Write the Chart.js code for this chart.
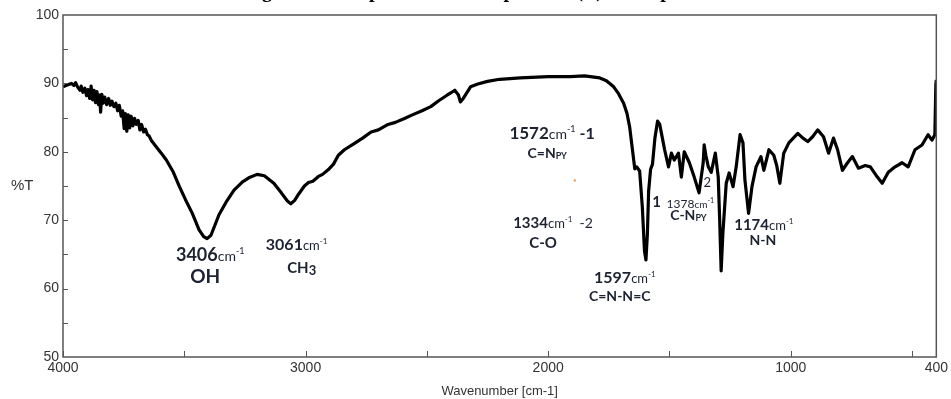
<!DOCTYPE html>
<html>
<head>
<meta charset="utf-8">
<script src="https://cdn.jsdelivr.net/npm/chart.js@4.4.1/dist/chart.umd.min.js"></script>
<style>
  html, body { margin: 0; padding: 0; background: #fff; }
  canvas { display: block; }
</style>
</head>
<body>
<canvas id="irChart" width="951" height="399"></canvas>
<script>
// IR spectrum (wavenumber in cm-1, transmittance in %)
const wavenumbers = [
  4000, 3980, 3965, 3955, 3948, 3940, 3930, 3925, 3918, 3910, 3903, 3897, 3890, 3884, 3878, 3872,
  3866, 3860, 3854, 3849, 3845, 3840, 3834, 3828, 3820, 3812, 3805, 3798, 3790, 3782, 3775, 3768,
  3760, 3754, 3748, 3743, 3737, 3731, 3725, 3719, 3712, 3705, 3698, 3690, 3683, 3676, 3668, 3660,
  3652, 3645, 3635, 3615, 3595, 3574,
  3545, 3520, 3495, 3467, 3439, 3420, 3406, 3390, 3357, 3325, 3295, 3260, 3234, 3200, 3170, 3131,
  3100, 3075, 3061, 3045, 3029, 3005, 2988, 2970, 2947, 2930, 2906, 2885, 2865, 2840, 2800, 2765,
  2730, 2700, 2660, 2630, 2590, 2560, 2520, 2484, 2450, 2420, 2402, 2385, 2370, 2362, 2350, 2320,
  2290, 2250, 2200, 2115, 2000, 1910, 1850, 1787, 1760, 1730, 1710, 1689, 1675, 1664, 1655, 1643,
  1635, 1623, 1612, 1603, 1597, 1591, 1586, 1578, 1570, 1560, 1549, 1540, 1533, 1520, 1504, 1492,
  1480, 1463, 1451, 1439, 1418, 1398, 1378, 1361, 1357, 1350, 1340, 1328, 1311, 1299, 1293, 1287,
  1280, 1266, 1254, 1238, 1225, 1209, 1197, 1189, 1174, 1160, 1143, 1123, 1111, 1090, 1070, 1058,
  1045, 1029, 1008, 971, 950, 930, 910, 889, 865, 844, 824, 807, 787, 766, 746, 721,
  693, 672, 643, 623, 598, 570, 541, 516, 488, 459, 434, 418, 406, 402, 400
];
const transmittance = [
  89.5, 89.8, 90.0, 89.7, 90.1, 89.5, 89.0, 89.6, 88.7, 89.3, 88.2, 89.1, 87.8, 89.6, 87.6, 89.0,
  87.2, 88.8, 86.9, 88.3, 85.8, 88.4, 87.1, 88.0, 86.9, 87.8, 86.8, 87.4, 86.6, 87.1, 86.0, 86.8,
  85.2, 86.0, 83.4, 85.6, 83.0, 85.4, 83.5, 85.2, 83.8, 84.9, 84.0, 84.6, 83.2, 84.0, 82.9, 83.3,
  82.5, 82.3, 81.6, 80.7, 79.8, 78.8,
  77.0, 74.9, 73.0, 71.0, 68.6, 67.6, 67.3, 67.8, 70.8, 72.8, 74.4, 75.6, 76.2, 76.7, 76.5, 75.4,
  74.0, 72.8, 72.4, 72.9, 73.8, 75.0, 75.5, 75.7, 76.4, 76.7, 77.4, 78.2, 79.5, 80.3, 81.2, 82.0,
  82.9, 83.2, 84.0, 84.3, 84.9, 85.4, 86.0, 86.6, 87.5, 88.2, 88.6, 89.0, 88.3, 87.3, 87.8, 89.5,
  89.9, 90.3, 90.6, 90.8, 91.0, 91.0, 91.1, 90.8, 90.4, 89.5, 88.5, 87.1, 85.6, 83.6, 81.0, 77.5,
  77.8, 77.2, 72.0, 65.5, 64.2, 68.0, 74.2, 77.4, 78.2, 82.0, 84.5, 84.0, 82.7, 80.3, 77.8, 79.8,
  78.8, 79.8, 76.3, 80.0, 78.4, 76.3, 74.0, 78.4, 81.0, 79.5, 77.8, 77.0, 79.8, 76.3, 70.0, 62.6,
  68.0, 75.4, 76.9, 74.9, 77.8, 82.5, 81.3, 75.9, 71.0, 74.9, 77.8, 79.3, 77.3, 80.3, 79.5, 78.0,
  75.4, 79.8, 81.3, 82.7, 82.0, 81.5, 82.2, 83.2, 82.2, 79.8, 82.0, 80.3, 77.3, 78.4, 79.3, 77.6,
  78.0, 77.8, 76.3, 75.4, 77.0, 77.8, 78.4, 77.8, 80.3, 81.0, 82.5, 81.7, 82.5, 89.8, 90.5
];

const xTickValues = [4000, 3000, 2000, 1000, 400];
const xMinorTicks = [4000, 3500, 3000, 2500, 2000, 1500, 1000, 500];
const yMinorTicks = [55, 60, 65, 70, 75, 80, 85, 90, 95];

// peak labels: anchor [wavenumber, %T], then text pieces [text, size, bold, dy]
const peakLabels = [
  { at: [3393, 64.0], parts: [['3406', 18, true], ['cm', 14, false], ['-1', 9, false, -7]] },
  { at: [3414, 60.8], parts: [['OH', 19, true]] },
  { at: [3037, 65.6], parts: [['3061', 16, true], ['cm', 13, false], ['-1', 8, false, -6]] },
  { at: [3016, 62.3], parts: [['CH', 15, true], ['3', 13, true, 2]] },
  { at: [1984, 81.9], parts: [['1572', 17, true], ['cm', 14, false], ['-1', 9, false, -7], [' -1', 16, true]] },
  { at: [2004, 79.1], parts: [['C=N', 14, true], ['PY', 9, true, 1]] },
  { at: [1980, 68.9], parts: [['1334', 15, true], ['cm', 13, false], ['-1', 8, false, -6], ['  -2', 14, false]] },
  { at: [2021, 65.9], parts: [['C-O', 15, true]] },
  { at: [1684, 60.8], parts: [['1597', 16, true], ['cm', 13, false], ['-1', 8, false, -6]] },
  { at: [1705, 58.2], parts: [['C=N-N=C', 14, true]] },
  { at: [1553, 71.9], parts: [['1', 15, true]] },
  { at: [1414, 71.8], parts: [['1378', 12, false], ['cm', 10, false], ['-1', 7, false, -5]] },
  { at: [1422, 70.1], parts: [['C-N', 14, true], ['PY', 9, true, 1]] },
  { at: [1344, 74.9], parts: [['2', 13, false]] },
  { at: [1111, 68.6], parts: [['1174', 15, true], ['cm', 13, false], ['-1', 8, false, -6]] },
  { at: [1115, 66.4], parts: [['N-N', 14, true]] }
];

const chartTitle = 'Fig. 3: FT-IR spectrum of complex [Cu(L)2] complex';

const spectrum = wavenumbers.map((w, i) => ({ x: w, y: transmittance[i] }));

// frame, inward tick marks, side texts and peak labels
const decorPlugin = {
  id: 'decor',
  afterDatasetsDraw(chart) {
    const { ctx, chartArea: a, scales: { x, y } } = chart;
    ctx.save();
    ctx.strokeStyle = '#555';
    ctx.lineWidth = 1.5;
    ctx.strokeRect(a.left, a.top, a.right - a.left, a.bottom - a.top);
    ctx.lineWidth = 1;
    ctx.beginPath();
    xMinorTicks.forEach(v => {
      const px = Math.round(x.getPixelForValue(v)) + 0.5;
      ctx.moveTo(px, a.bottom);
      ctx.lineTo(px, a.bottom - 6);
    });
    yMinorTicks.forEach(v => {
      const py = Math.round(y.getPixelForValue(v)) + 0.5;
      ctx.moveTo(a.left, py);
      ctx.lineTo(a.left + 5, py);
    });
    ctx.stroke();

    ctx.fillStyle = '#333';
    ctx.font = '15px "Liberation Sans", Arial, sans-serif';
    ctx.textAlign = 'left';
    ctx.textBaseline = 'middle';
    ctx.fillText('%T', 11, y.getPixelForValue(75));

    // title, cut off by the top edge as in the picture: only descenders show
    ctx.fillStyle = '#000';
    ctx.font = 'bold 20px "Liberation Serif", "Times New Roman", serif';
    ctx.textAlign = 'center';
    ctx.textBaseline = 'alphabetic';
    ctx.fillText(chartTitle, 470, -3);

    ctx.fillStyle = '#1d2230';
    ctx.textAlign = 'left';
    peakLabels.forEach(lab => {
      const cx = x.getPixelForValue(lab.at[0]);
      const by = y.getPixelForValue(lab.at[1]);
      const widths = lab.parts.map(p => {
        ctx.font = (p[2] ? 'bold ' : '') + p[1] + 'px Lato, "Open Sans", sans-serif';
        return ctx.measureText(p[0]).width;
      });
      let px = cx - widths.reduce((s, v) => s + v, 0) / 2;
      lab.parts.forEach((p, i) => {
        ctx.font = (p[2] ? 'bold ' : '') + p[1] + 'px Lato, "Open Sans", sans-serif';
        ctx.fillText(p[0], px, by + (p[3] || 0));
        px += widths[i];
      });
    });

    // small orange speck near the middle labels
    ctx.fillStyle = '#f0a060';
    ctx.beginPath();
    ctx.arc(x.getPixelForValue(1890), y.getPixelForValue(75.8), 1.2, 0, Math.PI * 2);
    ctx.fill();
    ctx.restore();
  }
};

const tickFont = { family: '"Liberation Sans", Arial, sans-serif', size: 14 };

new Chart(document.getElementById('irChart'), {
  type: 'line',
  data: {
    datasets: [{
      data: spectrum,
      borderColor: '#000',
      borderWidth: 3.2,
      borderJoinStyle: 'round',
      pointRadius: 0,
      tension: 0,
      fill: false
    }]
  },
  options: {
    responsive: false,
    animation: false,
    layout: { padding: { top: 15, right: 9, left: 0, bottom: 0 } },
    plugins: { legend: { display: false }, tooltip: { enabled: false } },
    scales: {
      x: {
        type: 'linear',
        reverse: true,
        min: 400,
        max: 4000,
        afterBuildTicks: s => { s.ticks = xTickValues.map(v => ({ value: v })); },
        afterFit: s => { s.height = 42; },
        grid: { display: false, drawTicks: false },
        border: { display: false },
        ticks: {
          font: tickFont, color: '#333', padding: 3, maxRotation: 0, autoSkip: false,
          callback: v => String(v)
        },
        title: {
          display: true,
          text: 'Wavenumber [cm-1]',
          color: '#333',
          font: { family: '"Liberation Sans", Arial, sans-serif', size: 13 },
          padding: { top: 0, bottom: 0 }
        }
      },
      y: {
        min: 50,
        max: 100,
        afterFit: s => { s.width = 63; },
        grid: { display: false, drawTicks: false },
        border: { display: false },
        ticks: { stepSize: 10, font: tickFont, color: '#333', padding: 4 }
      }
    }
  },
  plugins: [decorPlugin]
});
</script>
</body>
</html>
